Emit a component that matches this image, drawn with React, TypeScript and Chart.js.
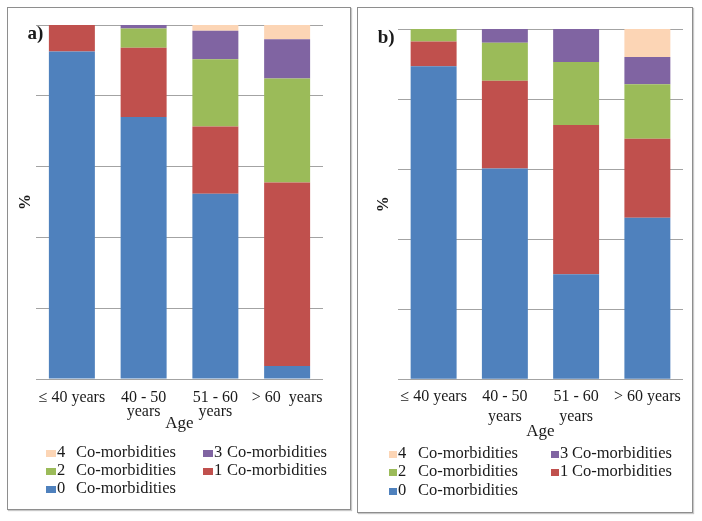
import React, { useEffect, useRef } from "react";
import { Chart, registerables } from "chart.js";

Chart.register(...registerables);

// ---------- data ----------
const categoriesA: string[][] = [["≤ 40 years"], ["40 - 50", "years"], ["51 - 60", "years"], ["> 60  years"]];
const categoriesB: string[][] = [["≤ 40 years"], ["40 - 50", "years"], ["51 - 60", "years"], ["> 60 years"]];

const seriesNames = ["0 Co-morbidities", "1 Co-morbidities", "2 Co-morbidities", "3 Co-morbidities", "4 Co-morbidities"];
const seriesColors = ["#4F81BD", "#C0504D", "#9BBB59", "#8064A2", "#FCD5B5"];

// panel a) percentages per age group
const a0 = [92.5, 74, 52.3, 3.7];
const a1 = [7.5, 19.6, 19, 51.8];
const a2 = [0, 5.4, 19, 29.4];
const a3 = [0, 1, 8.1, 11.1];
const a4 = [0, 0, 1.6, 4];

// panel b) percentages per age group
const b0 = [89.4, 60.2, 30, 46.1];
const b1 = [7, 25, 42.6, 22.6];
const b2 = [3.6, 10.9, 18, 15.5];
const b3 = [0, 3.9, 9.4, 7.8];
const b4 = [0, 0, 0, 8];

const yTicks = [0, 20, 40, 60, 80, 100];

const FONT = "'Liberation Serif', 'Times New Roman', serif";
const TEXT = "#1a1a1a";

const tagPlugin = {
  id: "panelTag",
  afterDraw(chart: any, _args: any, opts: any) {
    const ctx = chart.ctx;
    ctx.save();
    ctx.font = `bold 19px ${FONT}`;
    ctx.fillStyle = TEXT;
    ctx.textAlign = "left";
    ctx.textBaseline = "middle";
    ctx.fillText(opts.text, opts.x, opts.y);
    ctx.restore();
  },
};

type PanelCfg = {
  cats: string[][];
  series: number[][];
  tag: string;
  tagX: number;
  tagY: number;
  width: number;
  height: number;
  layout: { left: number; right: number; top: number; bottom: number };
  pctBottom: number;
  tickLH: number;
  tickPad: number;
  ageTop: number;
  barPct: number;
};

function ChartPanel({ cfg }: { cfg: PanelCfg }) {
  const ref = useRef<HTMLCanvasElement>(null);
  useEffect(() => {
    if (!ref.current) return;
    const chart = new Chart(ref.current, {
      type: "bar",
      data: {
        labels: cfg.cats as any,
        datasets: seriesNames.map((n, i) => ({
          label: n,
          data: cfg.series[i],
          backgroundColor: seriesColors[i],
          borderWidth: 0,
          barPercentage: cfg.barPct,
          categoryPercentage: 1,
        })),
      },
      options: {
        animation: false,
        responsive: false,
        maintainAspectRatio: false,
        devicePixelRatio: 1,
        layout: { padding: cfg.layout },
        plugins: {
          legend: { display: false },
          tooltip: { enabled: false },
          panelTag: { text: cfg.tag, x: cfg.tagX, y: cfg.tagY },
        } as any,
        scales: {
          x: {
            stacked: true,
            grid: { display: false, drawTicks: false },
            border: { display: false },
            ticks: {
              color: TEXT,
              font: { family: FONT, size: 16, lineHeight: cfg.tickLH },
              padding: cfg.tickPad,
              maxRotation: 0,
              autoSkip: false,
            },
            title: {
              display: true,
              text: "Age",
              color: TEXT,
              font: { family: FONT, size: 17, lineHeight: 1.2 },
              padding: { top: cfg.ageTop, bottom: 0 },
            },
          },
          y: {
            stacked: true,
            min: yTicks[0],
            max: yTicks[yTicks.length - 1],
            afterBuildTicks: (axis: any) => {
              axis.ticks = yTicks.map((v) => ({ value: v }));
            },
            ticks: { display: false },
            grid: { color: "#a3a3a3", drawTicks: false, lineWidth: 1 },
            border: { display: false },
            title: {
              display: true,
              text: "%",
              color: TEXT,
              font: { family: FONT, size: 16, weight: "bold", lineHeight: 1.2 },
              padding: { top: 0, bottom: cfg.pctBottom },
            },
          },
        },
      },
      plugins: [tagPlugin],
    });
    return () => chart.destroy();
  }, [cfg]);
  return <canvas ref={ref} width={cfg.width} height={cfg.height} style={{ width: cfg.width, height: cfg.height, display: "block" }} />;
}

type LegendCfg = {
  colLefts: number[];
  nameOffsets: number[];
  rowCenters: number[];
  boxW: number;
  boxH: number;
};

// legend layout: row 0: 4, 3 ; row 1: 2, 1 ; row 2: 0
const legendOrder = [
  [4, 3],
  [2, 1],
  [0],
];

function Legend({ cfg }: { cfg: LegendCfg }) {
  const items: React.ReactNode[] = [];
  legendOrder.forEach((row, r) => {
    row.forEach((si, c) => {
      const name = seriesNames[si];
      const sp = name.indexOf(" ");
      const digit = name.slice(0, sp);
      const rest = name.slice(sp + 1);
      items.push(
        <div
          key={`${r}-${c}`}
          style={{
            position: "absolute",
            left: cfg.colLefts[c],
            top: cfg.rowCenters[r] - 9,
            height: 18,
            width: 160,
            font: `16.5px ${FONT}`,
            color: TEXT,
            lineHeight: "18px",
            whiteSpace: "nowrap",
          }}
        >
          <span
            style={{
              position: "absolute",
              left: 0,
              top: 9 - cfg.boxH / 2 + 1,
              width: cfg.boxW,
              height: cfg.boxH,
              background: seriesColors[si],
            }}
          />
          <span style={{ position: "absolute", left: cfg.boxW + 1, top: 0 }}>{digit}</span>
          <span style={{ position: "absolute", left: cfg.nameOffsets[c], top: 0 }}>{rest}</span>
        </div>
      );
    });
  });
  return <>{items}</>;
}

const panelA: PanelCfg = {
  cats: categoriesA,
  series: [a0, a1, a2, a3, a4],
  tag: "a)",
  tagX: 19.5,
  tagY: 26,
  width: 342,
  height: 501,
  layout: { left: 8.4, right: 27, top: 17, bottom: 75.1 },
  pctBottom: 0.4,
  tickLH: 0.84375,
  tickPad: 12.25,
  ageTop: -17,
  barPct: 0.641,
};

const panelB: PanelCfg = {
  cats: categoriesB,
  series: [b0, b1, b2, b3, b4],
  tag: "b)",
  tagX: 19.7,
  tagY: 30.5,
  width: 334,
  height: 504,
  layout: { left: 16.4, right: 9, top: 21, bottom: 69.8 },
  pctBottom: 4.4,
  tickLH: 1.25,
  tickPad: 7.4,
  ageTop: -12.3,
  barPct: 0.645,
};

const legendA: LegendCfg = {
  colLefts: [46, 203],
  nameOffsets: [30, 24],
  rowCenters: [452, 470, 488],
  boxW: 10,
  boxH: 7,
};

const legendB: LegendCfg = {
  colLefts: [389, 551],
  nameOffsets: [29, 21],
  rowCenters: [453, 471, 490],
  boxW: 8,
  boxH: 7,
};

export default function App() {
  return (
    <div style={{ position: "absolute", left: 0, top: 0, width: 702, height: 521, background: "#fff", overflow: "hidden" }}>
      <div
        style={{
          position: "absolute",
          left: 7,
          top: 7,
          width: 344,
          height: 503,
          border: "1px solid #8e8e8e",
          boxSizing: "border-box",
          boxShadow: "1px 1px 1px #c8c8c8",
        }}
      >
        <ChartPanel cfg={panelA} />
      </div>
      <div
        style={{
          position: "absolute",
          left: 357,
          top: 7,
          width: 336,
          height: 506,
          border: "1px solid #8e8e8e",
          boxSizing: "border-box",
          boxShadow: "1px 1px 1px #c8c8c8",
        }}
      >
        <ChartPanel cfg={panelB} />
      </div>
      <Legend cfg={legendA} />
      <Legend cfg={legendB} />
    </div>
  );
}
